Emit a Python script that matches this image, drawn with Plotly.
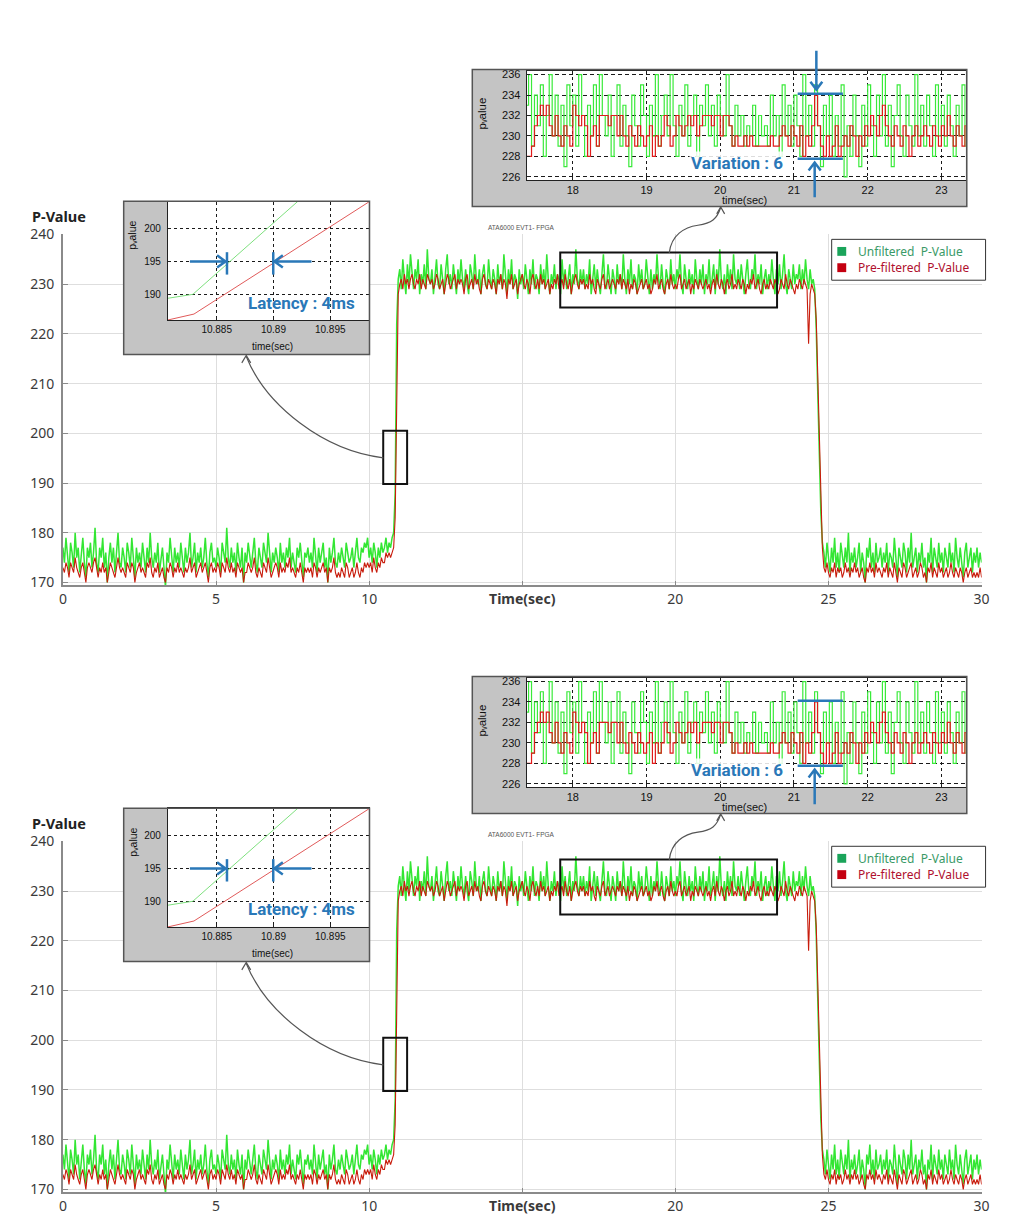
import re
import plotly.graph_objects as go

W, H = 1034, 1220
DY = 615  # the lower copy sits 615 px below the upper one

# ---------- main record, one sample every 0.05 s from 0 s ----------
T0, DT = 0.0, 0.05

green_low_1 = [
    177, 174, 179, 175, 172, 178, 176, 173, 180, 175, 177, 172, 176, 179, 174, 171, 177, 175, 178, 173,
    176, 181, 174, 172, 177, 175, 179, 173, 176, 170, 175, 178, 174, 177, 172, 176, 180, 174, 173, 177,
    175, 172, 178, 176, 173, 179, 175, 171, 177, 174, 176, 173, 178, 175, 172, 177, 174, 180, 175, 173,
    176, 174, 178, 172, 175, 177, 173, 169, 176, 174, 179, 175, 172, 177, 174, 176, 173, 178, 175, 172,
    177, 174, 176, 180, 173, 175, 178, 172, 176, 174, 177, 173, 175, 179, 174, 171, 176, 178, 174, 175,
    173, 177, 175, 172, 178, 176, 174, 181, 175, 173, 177, 174, 176, 172, 178, 175, 173, 177, 170, 176,
    174, 178, 175, 173, 176, 179, 174, 172, 177, 175, 173, 178, 176, 174, 180, 175, 172, 176, 174, 177,
    175, 172, 178, 174, 176, 173, 177, 175, 179, 173, 176, 174, 172, 177, 175, 178, 174, 171, 176, 175,
    177, 174, 176, 173, 179, 175, 172, 177, 174, 176, 178, 173, 175, 170, 177, 174, 176, 179, 174, 173,
    176, 174, 177, 175, 173, 178, 176, 174, 175, 177, 173, 176, 179, 175, 174, 177, 176, 178, 177, 179,
    175, 177, 174, 178, 176, 173, 177, 175, 178, 176, 177, 179, 176, 178, 177, 179,
]
green_rise = [180, 188, 222, 231]
green_high = [
    233, 229, 235, 231, 228, 234, 230, 236, 232, 229, 233, 231, 235, 228, 232, 230, 234, 229, 237, 231,
    230, 233, 228, 232, 235, 230, 229, 234, 231, 228, 233, 236, 230, 232, 229, 234, 231, 228, 233, 230,
    235, 231, 229, 233, 230, 228, 234, 232, 229, 236, 231, 230, 233, 228, 232, 234, 230, 229, 235, 231,
    229, 233, 231, 228, 234, 230, 232, 229, 236, 231, 228, 233, 230, 235, 229, 232, 231, 227, 233, 230,
    232, 229, 234, 231, 228, 233, 230, 235, 229, 232, 231, 228, 234, 230, 233, 229, 236, 231, 228, 232,
    230, 234, 229, 232, 231, 228, 235, 230, 233, 229, 231, 234, 228, 232, 230, 237, 231, 229, 233, 230,
    233, 229, 232, 230, 235, 228, 231, 234, 229, 233, 230, 228, 232, 236, 230, 229, 234, 231, 228, 233,
    231, 228, 234, 230, 232, 229, 236, 231, 228, 233, 230, 235, 229, 232, 231, 228, 234, 230, 233, 229,
    230, 235, 231, 228, 233, 229, 232, 230, 236, 231, 229, 234, 230, 228, 233, 231, 229, 235, 230, 232,
    229, 233, 231, 236, 230, 228, 234, 231, 229, 233, 230, 232, 228, 235, 231, 229, 233, 230, 234, 228,
    232, 230, 235, 229, 231, 234, 228, 233, 230, 237, 231, 229, 232, 228, 234, 230, 233, 229, 236, 231,
    230, 233, 229, 234, 231, 228, 232, 235, 230, 229, 233, 231, 236, 229, 232, 230, 234, 228, 231, 233,
    229, 232, 230, 235, 231, 228, 233, 230, 234, 229, 232, 236, 230, 228, 233, 231, 229, 234, 230, 232,
    231, 234, 229, 233, 230, 235, 231, 229, 233, 230, 231,
]
green_fall = [229, 221, 208, 195, 184, 178]
green_low_2 = [
    176, 173, 178, 175, 172, 177, 174, 179, 173, 176, 172, 178, 175, 173, 177, 174, 180, 172, 176, 174,
    177, 173, 175, 178, 172, 176, 174, 170, 177, 175, 179, 173, 176, 172, 178, 174, 175, 177, 173, 176,
    174, 178, 172, 176, 175, 173, 179, 174, 171, 177, 175, 173, 178, 176, 172, 177, 174, 180, 173, 175,
    177, 172, 176, 174, 178, 173, 175, 170, 176, 174, 179, 172, 177, 175, 173, 178, 174, 176, 172, 177,
    175, 173, 178, 174, 176, 172, 179, 175, 173, 177, 174, 171, 176, 178, 173, 175, 177, 172, 176, 174,
    177, 173, 176, 174,
]

red_low_1 = [
    173, 172, 174, 173, 171, 174, 173, 172, 175, 173, 172, 171, 173, 174, 172, 170, 173, 174, 173, 172,
    174, 175, 173, 171, 173, 172, 174, 172, 173, 170, 172, 174, 173, 172, 171, 173, 175, 173, 172, 173,
    172, 171, 174, 173, 172, 174, 173, 170, 172, 173, 174, 172, 173, 172, 171, 174, 173, 175, 172, 171,
    173, 172, 174, 171, 172, 173, 171, 170, 173, 172, 174, 173, 171, 173, 172, 174, 172, 173, 172, 171,
    173, 172, 173, 175, 172, 173, 174, 171, 172, 173, 174, 172, 173, 174, 172, 170, 173, 174, 172, 173,
    172, 174, 173, 171, 174, 173, 172, 175, 173, 172, 174, 172, 173, 171, 174, 173, 172, 173, 170, 172,
    172, 174, 173, 172, 173, 175, 172, 171, 173, 172, 171, 174, 173, 172, 175, 173, 171, 172, 173, 174,
    173, 171, 174, 172, 173, 172, 174, 173, 175, 172, 173, 172, 171, 173, 172, 174, 172, 170, 173, 172,
    173, 172, 173, 171, 174, 173, 171, 173, 172, 173, 174, 172, 173, 170, 173, 172, 173, 175, 172, 171,
    172, 171, 173, 172, 171, 174, 173, 171, 172, 173, 171, 172, 174, 172, 171, 173, 172, 174, 173, 174,
    173, 174, 172, 175, 173, 172, 174, 173, 175, 174, 174, 176, 175, 176, 175, 176,
]
red_rise = [177, 183, 212, 228]
red_high = [
    230, 231, 229, 232, 230, 231, 229, 231, 232, 230, 229, 231, 230, 232, 229, 231, 230, 229, 232, 231,
    230, 231, 229, 230, 232, 231, 229, 230, 231, 228, 230, 232, 231, 229, 230, 231, 232, 229, 231, 230,
    231, 230, 228, 231, 232, 229, 230, 231, 229, 232, 230, 231, 229, 228, 231, 232, 230, 229, 231, 230,
    229, 231, 230, 228, 231, 230, 232, 229, 231, 230, 227, 231, 230, 232, 229, 230, 231, 228, 230, 231,
    232, 230, 229, 231, 230, 228, 231, 232, 230, 229, 231, 229, 232, 230, 231, 229, 230, 231, 228, 230,
    229, 231, 230, 232, 229, 230, 231, 229, 232, 230, 229, 231, 228, 230, 231, 232, 230, 229, 231, 230,
    231, 229, 230, 229, 232, 230, 231, 229, 228, 231, 230, 229, 231, 232, 229, 230, 231, 229, 230, 231,
    230, 229, 231, 230, 232, 229, 231, 230, 229, 231, 228, 230, 229, 231, 230, 228, 229, 230, 231, 229,
    230, 231, 229, 230, 228, 229, 231, 230, 232, 229, 230, 231, 229, 228, 230, 231, 229, 232, 230, 229,
    230, 229, 231, 232, 229, 230, 231, 229, 230, 231, 228, 230, 229, 231, 230, 229, 231, 230, 229, 230,
    231, 229, 230, 228, 230, 231, 229, 232, 230, 229, 231, 230, 228, 230, 231, 229, 230, 232, 229, 230,
    229, 231, 230, 229, 231, 230, 228, 230, 229, 231, 230, 232, 229, 230, 231, 229, 228, 230, 231, 229,
    230, 229, 231, 230, 229, 231, 230, 228, 229, 231, 230, 229, 232, 230, 229, 231, 230, 229, 228, 230,
    229, 231, 230, 229, 231, 230, 229, 218, 228, 230, 229,
]
red_fall = [228, 223, 210, 197, 186, 177]
red_low_2 = [
    173, 172, 174, 172, 171, 173, 172, 174, 171, 173, 172, 173, 171, 172, 174, 172, 173, 171, 173, 172,
    174, 172, 173, 171, 172, 173, 171, 170, 173, 172, 174, 172, 173, 171, 174, 172, 173, 172, 171, 173,
    172, 174, 171, 173, 172, 171, 174, 172, 170, 173, 172, 171, 174, 173, 171, 172, 173, 174, 171, 172,
    173, 171, 172, 174, 173, 171, 172, 170, 173, 172, 174, 171, 173, 172, 171, 174, 172, 173, 171, 172,
    173, 171, 172, 174, 172, 171, 173, 172, 171, 173, 172, 170, 172, 173, 171, 172, 173, 171, 172, 171,
    172, 171, 173, 171,
]

green_main = green_low_1 + green_rise + green_high + green_fall + green_low_2
red_main = red_low_1 + red_rise + red_high + red_fall + red_low_2

# ---------- zoom on the rising edge ----------
lat_t_green = [10.8807, 10.8829, 10.8935]
lat_green = [189.4, 190.0, 206.2]
lat_t_red = [10.8807, 10.8830, 10.8990]
lat_red = [186.1, 187.0, 204.7]

# ---------- zoom on the plateau, one sample every 0.04 s ----------
VAR_T0, VAR_DT = 17.36, 0.04
var_green = [
    233, 236, 229, 234, 231, 235, 228, 232, 236, 230, 234, 229, 233, 227, 235,
    231, 234, 229, 236, 232, 228, 233, 230, 235, 229, 236, 232, 230, 234, 228,
    232, 235, 229, 233, 230, 227, 234, 231, 229, 235, 232, 228, 233, 230, 236,
    229, 232, 234, 230, 236, 231, 228, 233, 230, 235, 229, 232, 234, 228, 233,
    231, 235, 230, 233, 229, 234, 232, 230, 236, 231, 229, 233, 230, 232, 229,
    231, 230, 233, 229, 232, 230, 231, 229, 234, 230, 232, 228, 235, 230, 233,
    229, 234, 231, 228, 236, 230, 233, 229, 235, 231, 227, 233, 230, 234, 228,
    232, 229, 235, 226, 231, 228, 234, 230, 227, 233, 229, 235, 231, 228, 234,
    230, 236, 229, 233, 227, 232, 235, 230, 228, 234, 231, 229, 236, 230, 233,
    229, 234, 231, 228, 235, 230, 233, 229, 234, 231, 228, 233, 230, 235, 229,
    232,
]
var_red = [
    228, 228, 229, 231, 232, 233, 232, 233, 231, 230, 232, 230, 229, 231, 230, 229,
    233, 232, 231, 232, 231, 228, 230, 231, 229, 232, 232, 232, 231, 232, 232, 230,
    232, 230, 229, 231, 230, 229, 231, 230, 229, 230, 231, 228, 230, 229, 230, 232,
    231, 229, 230, 232, 231, 230, 231, 232, 231, 232, 230, 231, 232, 232, 232, 231,
    232, 232, 230, 232, 232, 231, 229, 230, 229, 229, 230, 229, 230, 229, 229, 229,
    229, 229, 229, 230, 229, 229, 230, 231, 230, 229, 231, 230, 229, 231, 228, 230,
    229, 231, 234, 231, 229, 228, 230, 228, 229, 231, 228, 229, 230, 229, 231, 230,
    228, 230, 229, 231, 230, 232, 231, 230, 232, 233, 231, 230, 229, 231, 230, 229,
    231, 230, 228, 230, 231, 229, 230, 231, 230, 229, 231, 230, 229, 231, 230, 232,
    230, 229, 231, 230, 229, 231, 230,
]

# ---------- ticks ----------
main_x_ticks = [0, 5, 10, 15, 20, 25, 30]
main_x_text = ["0", "5", "10", "<b>Time(sec)</b>", "20", "25", "30"]
main_y_ticks = [170, 180, 190, 200, 210, 220, 230, 240]
lat_x_ticks = [10.885, 10.89, 10.895]
lat_x_text = ["10.885", "10.89", "10.895"]
lat_y_ticks = [190, 195, 200]
var_x_ticks = [18, 19, 20, 21, 22, 23]
var_y_ticks = [226, 228, 230, 232, 234, 236]

GREEN = "#33e633"
RED = "#c81c0c"
BLUE = "#2a78b8"
BOX_GRAY = "#c4c4c4"
FONT = "Noto Sans"
MAT_FONT = "Liberation Sans"
PV_LABEL = "p\u1d65alue"   # MATLAB printed 'p_value' with the v as a subscript


# positions below are read in page pixels and converted to paper units here
def fx(x):
    return x / W


def fy(y):
    return 1 - y / H


def dom_x(x0, x1):
    return [fx(x0), fx(x1)]


def dom_y(top, bottom):
    return [fy(bottom), fy(top)]


def px_path(spec, dy):
    def conv(m):
        return f"{fx(float(m.group(1))):.5f},{fy(float(m.group(2)) + dy):.5f}"
    return re.sub(r"(-?[\d.]+),(-?[\d.]+)", conv, spec)


def names(i):
    s = "" if i == 1 else str(i)
    return "xaxis" + s, "yaxis" + s, "x" + s, "y" + s


fig = go.Figure()
layout = {}
shapes = []
annotations = []


def note(text, x, y, size, color="#111", family=FONT, angle=0, bg=None, xanchor="center"):
    a = dict(text=text, x=fx(x), y=fy(y), xref="paper", yref="paper", showarrow=False,
             xanchor=xanchor, yanchor="middle", textangle=angle,
             font=dict(size=size, color=color, family=family))
    if bg:
        a["bgcolor"] = bg
    annotations.append(a)


def paper_path(spec, dy, color, width):
    shapes.append(dict(type="path", xref="paper", yref="paper", layer="above",
                       path=px_path(spec, dy), line=dict(color=color, width=width)))


def paper_rect(x0, y0, x1, y1, dy, line_color, width, fill="rgba(0,0,0,0)"):
    shapes.append(dict(type="rect", xref="paper", yref="paper", layer="above",
                       x0=fx(x0), x1=fx(x1), y0=fy(y0 + dy), y1=fy(y1 + dy),
                       line=dict(color=line_color, width=width), fillcolor=fill))


main_axis = dict(showgrid=True, gridcolor="#dedede", gridwidth=1, zeroline=False,
                 showline=True, linecolor="#8a8a8a", linewidth=1.5,
                 ticks="inside", ticklen=5, tickcolor="#8a8a8a",
                 tickfont=dict(size=14, color="#3a3a3a", family=FONT))
mat_axis = dict(showgrid=True, gridcolor="#1a1a1a", gridwidth=1, griddash="dot", zeroline=False,
                showline=True, mirror=True, linecolor="#222", linewidth=1,
                ticks="inside", ticklen=3, tickcolor="#222")
# the gray frames are empty subplots that only carry their background shape
blank_axis = dict(range=[0, 1], visible=False, fixedrange=True)

for p in range(2):
    dy = p * DY
    b = 1 + 5 * p

    # main chart
    xa, ya, xr, yr = names(b)
    layout[xa] = dict(domain=dom_x(51.5, 981), anchor=yr, range=[0, 30],
                      tickvals=main_x_ticks, ticktext=main_x_text, **main_axis)
    layout[ya] = dict(domain=dom_y(219.3 + dy, 575 + dy), anchor=xr, range=[169.4, 240],
                      tickvals=main_y_ticks, ticklabelstandoff=4, **main_axis)
    fig.add_trace(go.Scatter(x0=T0, dx=DT, y=green_main, mode="lines", name="Unfiltered P-Value",
                             line=dict(color=GREEN, width=1.5), xaxis=xr, yaxis=yr, showlegend=False))
    fig.add_trace(go.Scatter(x0=T0, dx=DT, y=red_main, mode="lines", name="Pre-filtered P-Value",
                             line=dict(color=RED, width=1.1), xaxis=xr, yaxis=yr, showlegend=False))
    shapes.append(dict(type="rect", xref=xr, yref=yr, layer="above", x0=10.46, x1=11.24,
                       y0=189.8, y1=200.5, line=dict(color="#111", width=2)))
    shapes.append(dict(type="rect", xref=xr, yref=yr, layer="above", x0=16.24, x1=23.32,
                       y0=225.3, y1=236.35, line=dict(color="#111", width=2)))

    # gray frame behind the latency zoom
    xa, ya, xr, yr = names(b + 1)
    layout[xa] = dict(domain=dom_x(113, 361.7), anchor=yr, **blank_axis)
    layout[ya] = dict(domain=dom_y(185.7 + dy, 341 + dy), anchor=xr, **blank_axis)
    shapes.append(dict(type="rect", xref=xr, yref=yr, layer="below", x0=0, x1=1, y0=0, y1=1,
                       fillcolor=BOX_GRAY, line=dict(width=0)))
    paper_rect(113, 185.7, 361.7, 341, dy, "#555", 1.5)

    # latency zoom
    xa, ya, xr, yr = names(b + 2)
    layout[xa] = dict(domain=dom_x(157.7, 361), anchor=yr, range=[10.8807, 10.8984],
                      tickvals=lat_x_ticks, ticktext=lat_x_text,
                      tickfont=dict(size=10, color="#111", family=MAT_FONT), **mat_axis)
    layout[ya] = dict(domain=dom_y(186 + dy, 306 + dy), anchor=xr, range=[186.1, 204.1],
                      tickvals=lat_y_ticks, ticklabelstandoff=4,
                      tickfont=dict(size=10, color="#111", family=MAT_FONT), **mat_axis)
    fig.add_trace(go.Scatter(x=lat_t_green, y=lat_green, mode="lines", showlegend=False,
                             line=dict(color="#7ee07e", width=1), xaxis=xr, yaxis=yr))
    fig.add_trace(go.Scatter(x=lat_t_red, y=lat_red, mode="lines", showlegend=False,
                             line=dict(color="#e05a5a", width=1), xaxis=xr, yaxis=yr))
    note("time(sec)", 264, 333 + dy, 10, family=MAT_FONT)
    note(PV_LABEL, 122, 220 + dy, 10.5, family=MAT_FONT, angle=-90)

    # gray frame behind the variation zoom
    xa, ya, xr, yr = names(b + 3)
    layout[xa] = dict(domain=dom_x(465.7, 966), anchor=yr, **blank_axis)
    layout[ya] = dict(domain=dom_y(52.3 + dy, 191 + dy), anchor=xr, **blank_axis)
    shapes.append(dict(type="rect", xref=xr, yref=yr, layer="below", x0=0, x1=1, y0=0, y1=1,
                       fillcolor=BOX_GRAY, line=dict(width=0)))
    paper_rect(465.7, 52.3, 966, 191, dy, "#555", 1.5)

    # variation zoom
    xa, ya, xr, yr = names(b + 4)
    var_y_axis = dict(mat_axis)
    var_y_axis["griddash"] = "4px,3px"
    layout[xa] = dict(domain=dom_x(520.7, 965), anchor=yr, range=[17.374, 23.331],
                      tickvals=var_x_ticks,
                      tickfont=dict(size=11, color="#111", family=MAT_FONT), **mat_axis)
    layout[ya] = dict(domain=dom_y(53.3 + dy, 164.3 + dy), anchor=xr, range=[225.68, 236.39],
                      tickvals=var_y_ticks, ticklabelstandoff=3,
                      tickfont=dict(size=11, color="#111", family=MAT_FONT), **var_y_axis)
    fig.add_trace(go.Scatter(x0=VAR_T0, dx=VAR_DT, y=var_green, mode="lines", line_shape="hv",
                             showlegend=False, line=dict(color="#3aea3a", width=1.2),
                             xaxis=xr, yaxis=yr))
    fig.add_trace(go.Scatter(x0=VAR_T0, dx=VAR_DT, y=var_red, mode="lines", line_shape="hv",
                             showlegend=False, line=dict(color="#e01a1a", width=1.2),
                             xaxis=xr, yaxis=yr))
    note("time(sec)", 741.6, 184 + dy, 11, family=MAT_FONT)
    note(PV_LABEL, 475.3, 97 + dy, 11.5, family=MAT_FONT, angle=-90)

    # connectors from the boxes to the zooms
    paper_path("M 375.7,445.7 C 315.7,438.7 257,393 237,343", dy, "#555", 1.2)
    paper_path("M 232.5,349.5 L 237,342 L 241.5,349.5", dy, "#555", 1.2)
    paper_path("M 665,238 C 667,220 680,212 694,210 S 713,204 717,192", dy, "#555", 1.2)
    paper_path("M 713,198.5 L 717,191.5 L 721,198.5", dy, "#555", 1.2)

    # latency markers
    paper_path("M 180,246.7 L 216,246.7 M 207.5,240.5 L 216,246.7 L 207.5,252.9", dy, BLUE, 2.5)
    paper_path("M 217.5,237.3 L 217.5,260", dy, BLUE, 2.5)
    paper_path("M 303,246.7 L 265.5,246.7 M 274,240.5 L 265.5,246.7 L 274,252.9", dy, BLUE, 2.5)
    paper_path("M 264.3,237.3 L 264.3,260", dy, BLUE, 2.5)
    note("<b>Latency : 4ms</b>", 292.5, 288.3 + dy, 17, color=BLUE, family="Roboto")

    # variation markers
    if p == 0:
        paper_path("M 813.8,33.3 L 813.8,72.5 M 807.8,64.5 L 813.8,72.5 L 819.8,64.5", dy, BLUE, 2.5)
    paper_path("M 794.9,76.7 L 840.6,76.7", dy, BLUE, 2.5)
    paper_path("M 794.9,142.7 L 840.6,142.7", dy, BLUE, 2.5)
    paper_path("M 812.1,181.7 L 812.1,146.5 M 806,154.5 L 812.1,146.5 L 818.2,154.5", dy, BLUE, 2.5)
    note("<b>Variation : 6</b>", 734, 146.7 + dy, 17, color=BLUE, family="Roboto",
         bg="rgba(255,255,255,0.85)")

    # titles
    note("<b>P-Value</b>", 47.5, 200.5 + dy, 14.5, color="#222")
    note("ATA6000 EVT1- FPGA", 515.5, 212.7 + dy, 6.5, color="#555", family=MAT_FONT)

    # legend
    paper_rect(829.3, 224.3, 985, 265.7, dy, "#333", 1, fill="white")
    paper_rect(835, 232, 844, 241, dy, "#1aa45a", 0, fill="#1aa45a")
    paper_rect(835, 248.5, 844, 257.5, dy, "#c40010", 0, fill="#c40010")
    note("Unfiltered  P-Value", 854, 237 + dy, 12, color="#3a9a68", xanchor="left")
    note("Pre-filtered  P-Value", 854, 253 + dy, 12, color="#b0102e", xanchor="left")

fig.update_layout(
    width=W, height=H, autosize=False,
    margin=dict(l=0, r=0, t=0, b=0),
    paper_bgcolor="white", plot_bgcolor="white",
    font=dict(family=FONT, color="#333"),
    showlegend=False,
    shapes=shapes, annotations=annotations,
    **layout,
)

fig.write_html("out.html")
